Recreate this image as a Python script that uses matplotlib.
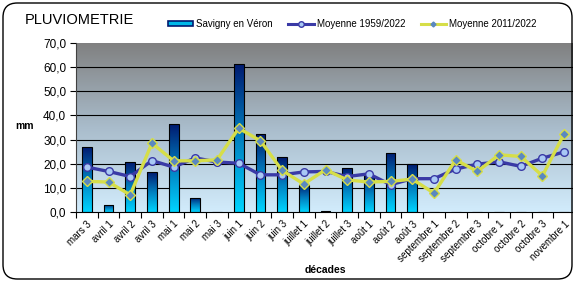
import numpy as np
import matplotlib
matplotlib.use("Agg")
import matplotlib.pyplot as plt
from matplotlib.patches import FancyBboxPatch, Patch
from matplotlib.lines import Line2D
from matplotlib.colors import LinearSegmentedColormap

plt.rcParams['font.family'] = ['Liberation Sans', 'DejaVu Sans']

categories = ["mars 3", "avril 1", "avril 2", "avril 3", "mai 1", "mai 2", "mai 3",
              "juin 1", "juin 2", "juin 3", "juillet 1", "juillet 2", "juillet 3",
              "août 1", "août 2", "août 3", "septembre 1", "septembre 2", "septembre 3",
              "octobre 1", "octobre 2", "octobre 3", "novembre 1"]
savigny = [26.9, 3.0, 20.7, 16.5, 36.4, 5.9, 0.0, 61.2, 32.3, 22.7, 11.3, 0.5, 18.2,
           15.0, 24.6, 19.8, 0.0, 0.0, 0.0, 0.0, 0.0, 0.0, 0.0]
moy_1959 = [18.6, 16.8, 14.7, 21.3, 18.6, 22.4, 20.7, 20.2, 15.4, 15.4, 16.6, 16.8, 14.7,
            15.8, 11.3, 13.8, 13.8, 17.8, 19.8, 20.8, 18.9, 22.3, 24.9]
moy_2011 = [12.7, 12.4, 7.1, 28.5, 21.2, 21.2, 21.6, 34.7, 29.5, 17.2, 11.6, 17.5, 13.3,
            12.4, 12.7, 13.6, 7.8, 21.6, 16.8, 23.7, 23.0, 15.0, 32.4]
yticks = [0, 10, 20, 30, 40, 50, 60, 70]
ytick_labels = ["0,0", "10,0", "20,0", "30,0", "40,0", "50,0", "60,0", "70,0"]

W, H = 573, 282
fig = plt.figure(figsize=(W / 100, H / 100), dpi=100)

# outer rounded frame
frame = FancyBboxPatch((3 / W, 3 / H), (569 / W), (276 / H),
                       boxstyle="round,pad=0,rounding_size=0.025",
                       transform=fig.transFigure, fill=False, ec='black', lw=1.0,
                       mutation_aspect=W / H)
fig.patches.append(frame)

ax = fig.add_axes([76 / W, (H - 212) / H, 499 / W, 169 / H])
n = len(categories)
x = np.arange(n)
ax.set_xlim(-0.5, n - 0.5)
ax.set_ylim(0, 70)

# background gradient
bg = LinearSegmentedColormap.from_list("bg", ["#d2ecfc", "#a9bccb", "#808080"])
grad = np.linspace(0, 1, 256).reshape(-1, 1)
ax.imshow(grad, extent=(-0.5, n - 0.5, 0, 70), origin='lower', aspect='auto',
          cmap=bg, zorder=0)

for yv in yticks[1:-1]:
    ax.axhline(yv, color='black', lw=0.8, zorder=1)

# bars with gradient
barcmap = LinearSegmentedColormap.from_list("bar", ["#00d4ff", "#0080c0", "#001a70"])
bars = ax.bar(x, savigny, width=0.45, color='none', edgecolor='black', lw=0.8, zorder=3)
for b in bars:
    h = b.get_height()
    if h <= 0:
        continue
    x0 = b.get_x()
    im = ax.imshow(grad, extent=(x0, x0 + b.get_width(), 0, h), origin='lower',
                   aspect='auto', cmap=barcmap, zorder=2)
    im.set_clip_path(b)
ax.set_xlim(-0.5, n - 0.5)
ax.set_ylim(0, 70)

ax.plot(x, moy_1959, color='#3a3aa6', lw=2.4, marker='o', ms=5.5,
        mfc='#a8c8f5', mec='#3a3aa6', mew=1.0, zorder=4)
ax.plot(x, moy_2011, color='#d6de48', lw=2.4, marker='D', ms=5,
        mfc='#5a88c0', mec='#d6de48', mew=1.0, zorder=5)

ax.set_yticks(yticks)
ax.set_yticklabels(ytick_labels, fontsize=8.5)
ax.set_xticks(x)
ax.set_xticklabels(categories, rotation=45, ha='right', va='top',
                   rotation_mode='anchor', fontsize=7)
ax.set_xticks(np.arange(n + 1) - 0.5, minor=True)
ax.tick_params(axis='x', which='major', length=0, pad=5)
ax.tick_params(axis='x', which='minor', length=4, width=0.8)
ax.tick_params(axis='y', length=4, width=0.8, pad=3)
for s in ['top', 'right']:
    ax.spines[s].set_visible(False)
ax.spines['left'].set_color('#404040')
ax.spines['bottom'].set_color('black')

fig.text(25 / W, 1 - 20 / H, "PLUVIOMETRIE", fontsize=10.5, va='center', ha='left')
fig.text(25 / W, 1 - 126 / H, "mm", fontsize=7.5, fontweight='bold', va='center', ha='center')
fig.text(325 / W, 1 - 270 / H, "décades", fontsize=7.5, fontweight='bold', va='center', ha='center')

handles = [
    Patch(facecolor='#00b8e8', edgecolor='#001a70', lw=1.2, label='Savigny en Véron'),
    Line2D([], [], color='#3a3aa6', lw=2.2, marker='o', ms=4, mfc='#a8c8f5',
           mec='#3a3aa6', label='Moyenne 1959/2022'),
    Line2D([], [], color='#d6de48', lw=2.2, marker='D', ms=2.5, mfc='#5a88c0',
           mec='#5a88c0', label='Moyenne 2011/2022'),
]
fig.legend(handles=handles, ncol=3, frameon=False, fontsize=7,
           loc='center left', bbox_to_anchor=(168 / W, 1 - 24 / H),
           handlelength=2.6, handleheight=0.45, handletextpad=0.3,
           columnspacing=1.6, borderpad=0, borderaxespad=0)

fig.savefig("out.png", dpi=100)
